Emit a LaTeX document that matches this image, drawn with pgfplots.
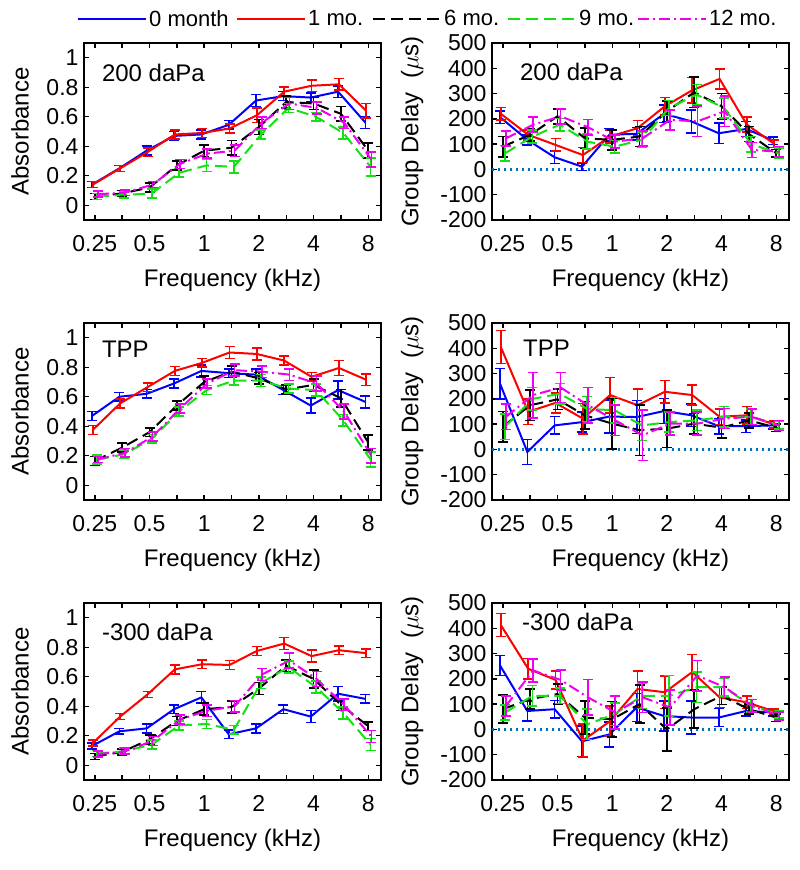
\documentclass[border=0pt]{standalone}
\usepackage{fontspec}
\setmainfont{Liberation Sans}
\usepackage{pgfplots}
\usepackage{pgfplotstable}
\pgfplotsset{compat=1.18}

\definecolor{mgreen}{RGB}{20,225,20}
\definecolor{mmag}{RGB}{240,0,240}
\definecolor{zline}{RGB}{0,114,189}
\newcommand{\tckfont}{\fontsize{23}{27}\selectfont}
\newcommand{\lblfont}{\fontsize{24}{28}\selectfont}
\newcommand{\lgdfont}{\fontsize{22}{26}\selectfont}

% columns: f, then value/error for 0, 1, 6, 9, 12 months
\pgfplotstableread{
f      b     be    r     re    k     ke    g     ge    m     me
0.25   0.14  0.02  0.14  0.02  0.06  0.02  0.06  0.02  0.075 0.02
0.3536 0.25  0.02  0.25  0.02  0.08  0.02  0.07  0.02  0.085 0.02
0.5    0.37  0.03  0.36  0.03  0.12  0.03  0.08  0.03  0.14  0.02
0.7071 0.47  0.03  0.48  0.03  0.27  0.03  0.22  0.03  0.28  0.03
1      0.48  0.03  0.49  0.03  0.37  0.04  0.27  0.04  0.35  0.03
1.4142 0.545 0.03  0.52  0.03  0.39  0.05  0.26  0.04  0.37  0.04
2      0.71  0.04  0.61  0.05  0.53  0.05  0.48  0.03  0.56  0.04
2.8284 0.74  0.03  0.77  0.03  0.70  0.04  0.66  0.03  0.69  0.04
4      0.73  0.03  0.81  0.04  0.69  0.04  0.60  0.03  0.66  0.04
5.6569 0.77  0.04  0.82  0.04  0.62  0.05  0.49  0.04  0.56  0.04
8      0.56  0.04  0.64  0.05  0.37  0.05  0.26  0.06  0.31  0.05
}\tAhi
\pgfplotstableread{
f      b     be    r     re    k     ke    g     ge    m     me
0.25   207   25    220   25    90    40    64    30    123   30
0.3536 117   20    137   20    137   25    130   25    177   30
0.5    48    25    97    25    210   30    177   25    210   30
0.7071 11    15    57    30    123   40    110   30    167   30
1      137   25    130   25    117   40    90    25    110   25
1.4142 141   25    163   30    130   40    117   30    123   30
2      220   35    250   35    230   40    243   30    196   40
2.8284 190   45    313   50    305   60    296   40    190   60
4      143   40    358   40    250   50    243   40    230   60
5.6569 160   30    177   30    140   30    100   30    77    30
8      114   15    101   15    64    15    64    20    70    20
}\tGhi
\pgfplotstableread{
f      b     be    r     re    k     ke    g     ge    m     me
0.25   0.47  0.03  0.375 0.03  0.165 0.03  0.175 0.03  0.175 0.02
0.3536 0.60  0.03  0.555 0.03  0.255 0.03  0.21  0.03  0.22  0.03
0.5    0.62  0.03  0.665 0.03  0.36  0.03  0.315 0.03  0.33  0.03
0.7071 0.69  0.03  0.775 0.03  0.54  0.03  0.50  0.03  0.52  0.03
1      0.775 0.04  0.83  0.03  0.70  0.04  0.645 0.03  0.69  0.03
1.4142 0.76  0.03  0.90  0.04  0.77  0.04  0.71  0.03  0.78  0.04
2      0.75  0.04  0.89  0.04  0.725 0.04  0.71  0.04  0.77  0.04
2.8284 0.645 0.03  0.845 0.03  0.65  0.03  0.655 0.03  0.75  0.04
4      0.54  0.05  0.735 0.03  0.68  0.04  0.645 0.04  0.69  0.05
5.6569 0.645 0.06  0.795 0.05  0.59  0.06  0.44  0.04  0.50  0.05
8      0.565 0.04  0.715 0.04  0.29  0.05  0.175 0.05  0.20  0.05
}\tAtpp
\pgfplotstableread{
f      b     be    r     re    k     ke    g     ge    m     me
0.25   260   60    405   65    90    60    90    50    129   50
0.3536 -10   50    149   50    175   60    200   45    215   90
0.5    95    35    184   40    198   40    220   40    245   60
0.7071 108   40    122   60    135   55    160   50    175   70
1      130   65    215   70    102   100   155   50    115   60
1.4142 128   65    175   65    76    100   95    60    56    100
2      152   50    228   45    82    75    108   40    102   45
2.8284 135   45    215   40    102   40    115   40    102   45
4      92    30    129   30    86    40    129   40    122   40
5.6569 92    25    135   35    115   30    129   30    129   30
8      95    15    99    15    86    15    95    15    95    20
}\tGtpp
\pgfplotstableread{
f      b     be    r     re    k     ke    g     ge    m     me
0.25   0.13  0.02  0.15  0.02  0.06  0.02  0.08  0.02  0.075 0.02
0.3536 0.23  0.02  0.33  0.02  0.09  0.02  0.095 0.02  0.095 0.02
0.5    0.25  0.03  0.48  0.02  0.175 0.03  0.14  0.03  0.165 0.03
0.7071 0.38  0.03  0.65  0.03  0.30  0.03  0.27  0.03  0.31  0.03
1      0.46  0.04  0.685 0.03  0.38  0.04  0.28  0.03  0.37  0.04
1.4142 0.21  0.03  0.68  0.03  0.395 0.04  0.24  0.03  0.40  0.04
2      0.25  0.03  0.775 0.03  0.52  0.04  0.56  0.04  0.615 0.04
2.8284 0.38  0.03  0.825 0.04  0.675 0.04  0.665 0.04  0.71  0.05
4      0.33  0.04  0.74  0.04  0.585 0.06  0.53  0.04  0.585 0.05
5.6569 0.485 0.05  0.78  0.03  0.41  0.04  0.355 0.04  0.41  0.04
8      0.45  0.03  0.76  0.03  0.265 0.03  0.14  0.04  0.195 0.04
}\tAlo
\pgfplotstableread{
f      b     be    r     re    k     ke    g     ge    m     me
0.25   253   40    413   45    80    55    67    30    93    40
0.3536 73    40    240   40    120   40    133   40    233   45
0.5    80    35    196   35    140   40    133   30    196   40
0.7071 -47   60    -44   65    47    65    20    60    127   70
1      -20   50    33    60    40    70    60    45    67    65
1.4142 87    55    160   70    100   75    133   50    127   60
2      53    60    147   65    0     85    133   80    87    70
2.8284 47    65    227   70    80    75    167   60    213   60
4      47    35    127   40    133   35    167   35    167   40
5.6569 73    20    107   25    80    20    93    25    93    25
8      67    15    71    10    47    15    60    15    53    15
}\tGlo

\tikzset{
  ser0/.style={blue, line width=2pt},
  ser1/.style={red, line width=2pt},
  ser6/.style={black, line width=2pt, dash pattern=on 12pt off 6pt},
  ser9/.style={mgreen, line width=2pt, dash pattern=on 12pt off 6pt},
  ser12/.style={mmag, line width=2pt, dash pattern=on 11pt off 4pt on 2pt off 4pt},
}
\pgfplotsset{
  every axis/.append style={
    scale only axis, width=297pt, height=177pt,
    xmin=0.218, xmax=9.4,
    xtick={0.25,0.3536,0.5,0.7071,1,1.4142,2,2.8284,4,5.6569,8},
    xticklabels={0.25,,0.5,,1,,2,,4,,8},
    tick align=inside,
    xtick pos=both, ytick pos=both,
    xticklabel pos=lower, yticklabel pos=left,
    major tick length=5pt,
    axis line style={line width=1.9pt},
    tick label style={font=\tckfont},
    xticklabel style={yshift=-12pt},
    yticklabel style={xshift=-2pt},
    xlabel={Frequency (kHz)},
    xlabel style={at={(axis description cs:0.5,0)}, anchor=north, inner sep=0pt, yshift=-49pt, font=\lblfont},
    ylabel style={font=\lblfont, anchor=center},
  },
  every tick/.append style={black, line width=1.4pt},
}

\newcommand{\fiveseries}[1]{%
  \addplot[ser0, error bars/y dir=both, error bars/y explicit, error bars/error bar style={solid, line width=1.6pt}, error bars/error mark options={solid, rotate=90, mark size=5pt, line width=1.6pt}] table[x expr=\thisrow{f}*0.965, y=b, y error=be] {#1};
  \addplot[ser1, error bars/y dir=both, error bars/y explicit, error bars/error bar style={solid, line width=1.6pt}, error bars/error mark options={solid, rotate=90, mark size=5pt, line width=1.6pt}] table[x expr=\thisrow{f}*0.975, y=r, y error=re] {#1};
  \addplot[ser6, error bars/y dir=both, error bars/y explicit, error bars/error bar style={solid, line width=1.6pt}, error bars/error mark options={solid, rotate=90, mark size=5pt, line width=1.6pt}] table[x expr=\thisrow{f}*1.0, y=k, y error=ke] {#1};
  \addplot[ser9, error bars/y dir=both, error bars/y explicit, error bars/error bar style={solid, line width=1.6pt}, error bars/error mark options={solid, rotate=90, mark size=5pt, line width=1.6pt}] table[x expr=\thisrow{f}*1.03, y=g, y error=ge] {#1};
  \addplot[ser12, error bars/y dir=both, error bars/y explicit, error bars/error bar style={solid, line width=1.6pt}, error bars/error mark options={solid, rotate=90, mark size=5pt, line width=1.6pt}] table[x expr=\thisrow{f}*1.04, y=m, y error=me] {#1};
}
\newcommand{\zeroline}{%
  \addplot[draw=zline, line width=2.2pt, dash pattern=on 2pt off 4pt] coordinates {(0.218,0) (9.4,0)};
}

\begin{document}
\begin{tikzpicture}
\useasboundingbox (0pt,0pt) rectangle (800pt,870pt);

% top row, 200 daPa
\begin{axis}[at={(84pt,650pt)}, anchor=south west, xmode=log, log basis x=2,
  ymin=-0.1, ymax=1.1, ytick={0,0.2,0.4,0.6,0.8,1}, yticklabels={0,0.2,0.4,0.6,0.8,1},
  ylabel={Absorbance}, ylabel style={at={(axis description cs:-0.2155,0.5)}}]
  \fiveseries{\tAhi}
  \node[anchor=north west, inner sep=0pt, font=\lblfont] at (axis description cs:0.06,0.881) {200 daPa};
\end{axis}
\begin{axis}[at={(492pt,650pt)}, anchor=south west, xmode=log, log basis x=2,
  ymin=-200, ymax=500, ytick={-200,-100,0,100,200,300,400,500}, yticklabels={-200,-100,0,100,200,300,400,500},
  ylabel={Group Delay\ \ ($\mu$s)}, ylabel style={at={(axis description cs:-0.269,0.5)}}]
  \zeroline
  \fiveseries{\tGhi}
  \node[anchor=north west, inner sep=0pt, font=\lblfont] at (axis description cs:0.094,0.887) {200 daPa};
\end{axis}

% middle row, TPP
\begin{axis}[at={(84pt,370pt)}, anchor=south west, xmode=log, log basis x=2,
  ymin=-0.1, ymax=1.1, ytick={0,0.2,0.4,0.6,0.8,1}, yticklabels={0,0.2,0.4,0.6,0.8,1},
  ylabel={Absorbance}, ylabel style={at={(axis description cs:-0.2155,0.5)}}]
  \fiveseries{\tAtpp}
  \node[anchor=north west, inner sep=0pt, font=\lblfont] at (axis description cs:0.06,0.898) {TPP};
\end{axis}
\begin{axis}[at={(492pt,370pt)}, anchor=south west, xmode=log, log basis x=2,
  ymin=-200, ymax=500, ytick={-200,-100,0,100,200,300,400,500}, yticklabels={-200,-100,0,100,200,300,400,500},
  ylabel={Group Delay\ \ ($\mu$s)}, ylabel style={at={(axis description cs:-0.269,0.5)}}]
  \zeroline
  \fiveseries{\tGtpp}
  \node[anchor=north west, inner sep=0pt, font=\lblfont] at (axis description cs:0.104,0.904) {TPP};
\end{axis}

% bottom row, -300 daPa
\begin{axis}[at={(84pt,90pt)}, anchor=south west, xmode=log, log basis x=2,
  ymin=-0.1, ymax=1.1, ytick={0,0.2,0.4,0.6,0.8,1}, yticklabels={0,0.2,0.4,0.6,0.8,1},
  ylabel={Absorbance}, ylabel style={at={(axis description cs:-0.2155,0.5)}}]
  \fiveseries{\tAlo}
  \node[anchor=north west, inner sep=0pt, font=\lblfont] at (axis description cs:0.06,0.887) {-300 daPa};
\end{axis}
\begin{axis}[at={(492pt,90pt)}, anchor=south west, xmode=log, log basis x=2,
  ymin=-200, ymax=500, ytick={-200,-100,0,100,200,300,400,500}, yticklabels={-200,-100,0,100,200,300,400,500},
  ylabel={Group Delay\ \ ($\mu$s)}, ylabel style={at={(axis description cs:-0.269,0.5)}}]
  \zeroline
  \fiveseries{\tGlo}
  \node[anchor=north west, inner sep=0pt, font=\lblfont] at (axis description cs:0.101,0.944) {-300 daPa};
\end{axis}

% legend, in an empty axis of its own
\begin{axis}[at={(84pt,650pt)}, anchor=south west, hide axis, xmode=log, log basis x=2,
  ymin=0, ymax=1, xlabel={},
  legend columns=5,
  legend image code/.code={\draw[#1] (0pt,0pt) -- (68pt,0pt);},
  legend style={at={(axis description cs:-0.0236,1.1356)}, anchor=west,
    draw=none, fill=none, inner sep=0pt, column sep=0pt,
    nodes={inner xsep=2pt, inner ysep=0pt}}]
  \addlegendimage{ser0}\addlegendentry{\makebox[85pt][l]{\lgdfont 0 month}}
  \addlegendimage{ser1}\addlegendentry{\makebox[62pt][l]{\lgdfont 1 mo.}}
  \addlegendimage{ser6}\addlegendentry{\makebox[61pt][l]{\lgdfont 6 mo.}}
  \addlegendimage{ser9}\addlegendentry{\makebox[56pt][l]{\lgdfont 9 mo.}}
  \addlegendimage{ser12}\addlegendentry{\makebox[64pt][l]{\lgdfont 12 mo.}}
\end{axis}
\end{tikzpicture}
\end{document}
